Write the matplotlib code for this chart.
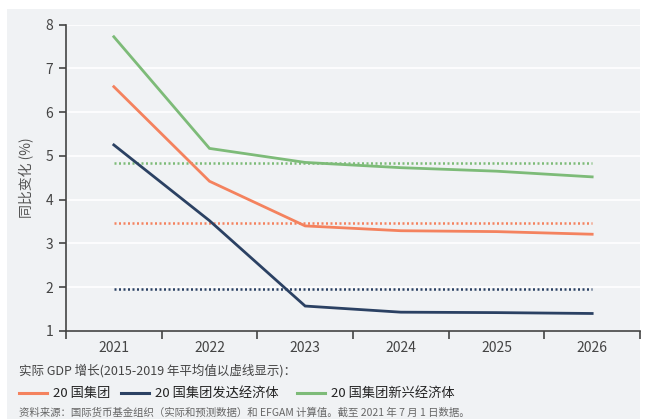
import matplotlib
matplotlib.use('Agg')
import matplotlib.pyplot as plt
from matplotlib.patches import Rectangle
from matplotlib.lines import Line2D

plt.rcParams['font.family'] = ['Noto Sans CJK SC', 'DejaVu Sans']

years = ['2021', '2022', '2023', '2024', '2025', '2026']
g20 = [6.58, 4.42, 3.40, 3.29, 3.27, 3.21]
g20_dev = [5.25, 3.52, 1.57, 1.43, 1.42, 1.40]
g20_em = [7.72, 5.17, 4.85, 4.73, 4.65, 4.52]
avg_g20 = 3.46
avg_dev = 1.97
avg_em = 4.84

names = ['20 国集团', '20 国集团发达经济体', '20 国集团新兴经济体']
c_or = '#f4825e'
c_nv = '#2b4163'
c_gr = '#7dbb78'
bg = '#f0f2f4'

fig = plt.figure(figsize=(6.46, 4.19), dpi=100)
fig.patch.set_facecolor('white')
fig.patches.append(Rectangle((7/646, 0), 633/646, 1 - 9/419, transform=fig.transFigure,
                             facecolor=bg, edgecolor='none', zorder=-1))

ax = fig.add_axes([66/646, 1 - 331/419, 574/646, (331 - 24.5)/419])
ax.set_zorder(2)
ax.set_facecolor(bg)

x = list(range(len(years)))
for vals, c in [(g20_em, c_gr), (g20, c_or), (g20_dev, c_nv)]:
    ax.plot(x, vals, color=c, lw=2, solid_joinstyle='miter', zorder=3)
# 2015-2019 averages, dotted
for v, c in [(avg_em, c_gr), (avg_g20, c_or), (avg_dev, c_nv)]:
    ax.plot([x[0], x[-1]], [v, v], color=c, lw=1.8, linestyle=(0, (0.8, 1.0)), zorder=2)

ax.set_xlim(-0.5, len(years) - 0.5)
ax.set_ylim(1, 8)
ax.set_yticks(range(1, 9))
ax.set_xticks([i - 0.5 for i in range(len(years) + 1)])
ax.set_xticklabels([])
ax.set_xticks(x, minor=True)
ax.set_xticklabels(years, minor=True)
ax.tick_params(axis='x', which='major', length=6, width=1.2, color='#444444')
ax.tick_params(axis='x', which='minor', length=0, pad=7, labelsize=10, labelcolor='#444444')
ax.tick_params(axis='y', length=5, width=1.2, color='#444444', labelsize=10,
               labelcolor='#444444', pad=4)
ax.grid(axis='y', color='white', lw=1.2)
ax.set_axisbelow(True)
for s in ['top', 'right']:
    ax.spines[s].set_visible(False)
for s in ['left', 'bottom']:
    ax.spines[s].set_color('#444444')
    ax.spines[s].set_linewidth(1.2)
ax.set_ylabel('同比变化 (%)', fontsize=10, color='#555555', labelpad=8)

fig.text(19/646, 1 - 371/419, '实际 GDP 增长(2015-2019 年平均值以虚线显示)：', fontsize=9,
         color='#444444', va='center')

leg_x = [19, 121, 297]
for lx, name, c in zip(leg_x, names, [c_or, c_nv, c_gr]):
    fig.add_artist(Line2D([lx/646, (lx + 28)/646], [1 - 393/419] * 2, color=c, lw=2.2,
                          transform=fig.transFigure))
    fig.text((lx + 34)/646, 1 - 393/419, name, fontsize=9.5, color='#222222', va='center')

fig.text(19/646, 1 - 413/419,
         '资料来源：国际货币基金组织（实际和预测数据）和 EFGAM 计算值。截至 2021 年 7 月 1 日数据。',
         fontsize=7.5, color='#666666', va='center')

fig.savefig('out.png', dpi=100, facecolor=fig.get_facecolor())
